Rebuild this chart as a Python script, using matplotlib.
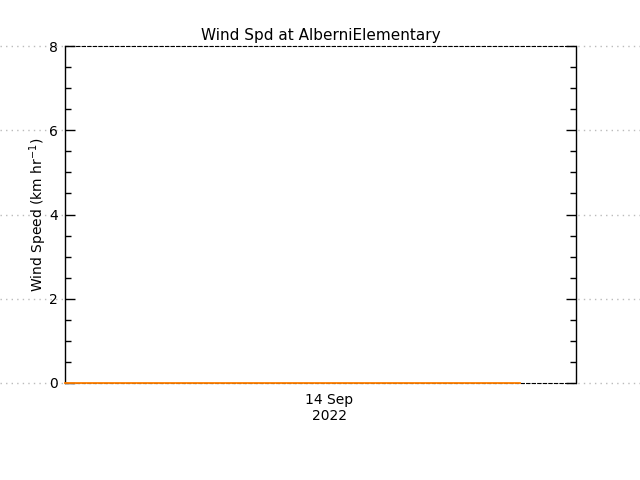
import matplotlib
matplotlib.use('Agg')
import matplotlib.pyplot as plt
import matplotlib.dates as mdates
import matplotlib.transforms as mtransforms
from matplotlib.lines import Line2D
from matplotlib.ticker import MultipleLocator
import pandas as pd

station = 'AlberniElementary'

# hourly wind speed (km/hr), all calm
times = pd.date_range('2022-09-12 23:00', '2022-09-14 18:00', freq='h')
wind = [0.0, 0.0, 0.0, 0.0, 0.0, 0.0, 0.0, 0.0, 0.0, 0.0, 0.0, 0.0,
        0.0, 0.0, 0.0, 0.0, 0.0, 0.0, 0.0, 0.0, 0.0, 0.0, 0.0, 0.0,
        0.0, 0.0, 0.0, 0.0, 0.0, 0.0, 0.0, 0.0, 0.0, 0.0, 0.0, 0.0,
        0.0, 0.0, 0.0, 0.0, 0.0, 0.0, 0.0, 0.0]

x_start = pd.Timestamp('2022-09-12 23:00')
x_end = pd.Timestamp('2022-09-14 23:20')
date_ticks = [pd.Timestamp('2022-09-14')]
y_ticks = [0, 2, 4, 6, 8]

fig = plt.figure(figsize=(6.4, 4.8), dpi=100)
ax = fig.add_axes([65 / 640, 1 - 383 / 480, 511 / 640, 337 / 480])

ax.plot(times, wind, color='#ff7f00', lw=1.3, clip_on=False, zorder=5)

ax.set_xlim(x_start, x_end)
ax.set_ylim(0, 8)
ax.set_yticks(y_ticks)
ax.yaxis.set_minor_locator(MultipleLocator(0.5))
ax.set_xticks(date_ticks)
ax.xaxis.set_major_formatter(mdates.DateFormatter('%d %b\n%Y'))

ax.tick_params(axis='y', which='major', direction='in', length=7, width=1,
               left=True, right=True, labelsize=10, pad=5)
ax.tick_params(axis='y', which='minor', direction='in', length=4, width=1,
               left=True, right=True)
ax.tick_params(axis='x', which='both', length=0, labelsize=10, pad=7)

for side in ['top', 'bottom']:
    ax.spines[side].set_linestyle((0, (3, 2)))
    ax.spines[side].set_linewidth(0.8)
for side in ['left', 'right']:
    ax.spines[side].set_linewidth(1.0)

# dotted grid lines outside the plot box, spanning the figure
trans = mtransforms.blended_transform_factory(fig.transFigure, ax.transData)
for yv in y_ticks:
    fig.add_artist(Line2D([0, 1], [yv, yv], transform=trans, color='#bbbbbb',
                          lw=1, ls=(0, (1, 3)), zorder=-1))

ax.set_title('Wind Spd at ' + station, fontsize=11, pad=4)
ax.set_ylabel('Wind Speed (km hr$^{-1}$)', fontsize=10, labelpad=0)

fig.savefig('out.png', dpi=100)
